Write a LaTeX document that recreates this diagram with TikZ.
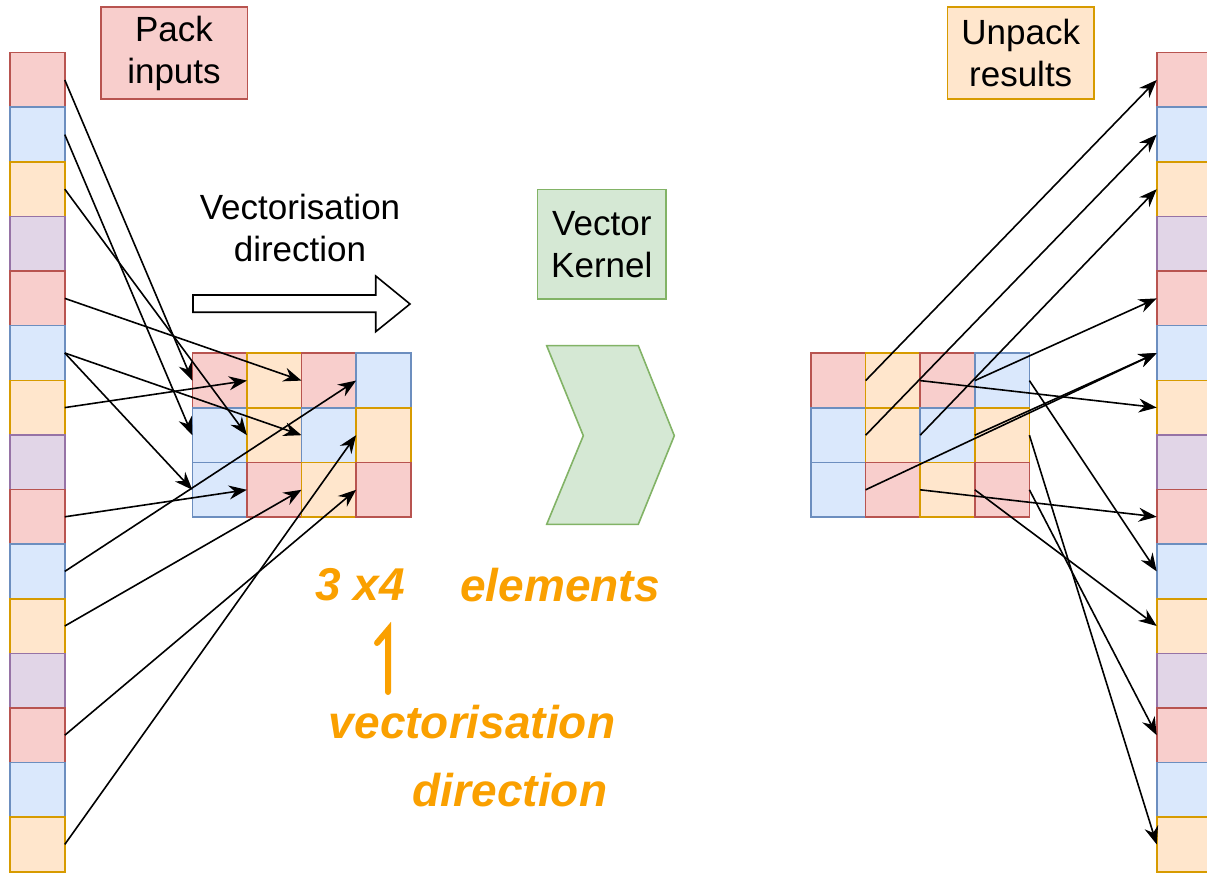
\documentclass[tikz,border=0pt]{standalone}
\usepackage{fontspec}
\setmainfont{Liberation Sans}
\usetikzlibrary{arrows.meta}

\definecolor{rdf}{HTML}{F8CECC}\definecolor{rdd}{HTML}{B85450}
\definecolor{blf}{HTML}{DAE8FC}\definecolor{bld}{HTML}{6C8EBF}
\definecolor{orf}{HTML}{FFE6CC}\definecolor{ord}{HTML}{D79B00}
\definecolor{puf}{HTML}{E1D5E7}\definecolor{pud}{HTML}{9673A6}
\definecolor{gnf}{HTML}{D5E8D4}\definecolor{gnd}{HTML}{82B366}
\definecolor{hand}{RGB}{250,160,0}

\tikzset{
  cell/.style={draw=#1d, fill=#1f, line width=1.6pt, minimum size=54.6pt, inner sep=0pt, outer sep=0pt},
  tag/.style={draw=#1d, fill=#1f, line width=1.6pt, align=center, inner sep=0pt, outer sep=0pt},
  link/.style={->, line width=1.6pt},
  note/.style={text=hand, font=\fontsize{46}{52}\selectfont\bfseries\itshape, inner sep=0pt}
}

\begin{document}
\begin{tikzpicture}[x=1pt,y=-1pt,>={Stealth[length=18pt,width=14pt,inset=6pt]},
    every node/.style={font=\fontsize{35}{42}\selectfont}]
  \useasboundingbox (0,0) rectangle (1207,874);

  % input and output columns
  \foreach \s [count=\i from 0] in {rd,bl,or,pu,rd,bl,or,pu,rd,bl,or,pu,rd,bl,or} {
    \node[cell=\s] (l\i) at (37.5,{80+54.6*\i}) {};
    \node[cell=\s] (r\i) at (1184,{80+54.6*\i}) {};
  }

  % packed 3x4 blocks
  \foreach \s [count=\k from 0] in {rd,or,rd,bl,bl,or,bl,or,bl,rd,or,rd} {
    \pgfmathtruncatemacro\gr{\k/4}
    \pgfmathtruncatemacro\gc{mod(\k,4)}
    \node[cell=\s] (a\k) at ({219.6+54.6*\gc},{380.6+54.6*\gr}) {};
    \node[cell=\s] (b\k) at ({838.3+54.6*\gc},{380.6+54.6*\gr}) {};
  }

  \node[tag=rd, minimum width=146.6pt, minimum height=91.7pt] (pack) at (174,53) {Pack\\inputs};
  \node[tag=or, minimum width=146.7pt, minimum height=91.7pt] (unpack) at (1020.7,53) {Unpack\\results};
  \node[tag=gn, minimum width=128.3pt, minimum height=109.7pt] (kernel) at (601.8,244.2) {Vector\\Kernel};
  \node[align=center] (dir) at (300,228) {Vectorisation\\direction};

  % direction arrow and kernel chevron
  \draw[line width=1.6pt, fill=white] (193,295) -- (375.7,295) -- (375.7,276) -- (410,304)
    -- (375.7,331.7) -- (375.7,312.3) -- (193,312.3) -- cycle;
  \draw[line width=1.6pt, draw=gnd, fill=gnf] (546.7,345.7) -- (638.3,345.7) -- (674.3,435.7)
    -- (638.3,524.3) -- (546.7,524.3) -- (583.3,435.7) -- cycle;

  % packing
  \draw[link] (l0.east) -- (a0.west);
  \draw[link] (l1.east) -- (a4.west);
  \draw[link] (l2.east) -- (a5.west);
  \draw[link] (l4.east) -- (a2.west);
  \draw[link] (l5.east) -- (a6.west);
  \draw[link] (l5.east) -- (a8.west);
  \draw[link] (l6.east) -- (a1.west);
  \draw[link] (l8.east) -- (a9.west);
  \draw[link] (l9.east) -- (a3.west);
  \draw[link] (l10.east) -- (a10.west);
  \draw[link] (l12.east) -- (a11.west);
  \draw[link] (l14.east) -- (a7.west);

  % unpacking
  \draw[link] (b0.east) -- (r0.west);
  \draw[link] (b4.east) -- (r1.west);
  \draw[link] (b5.east) -- (r2.west);
  \draw[link] (b2.east) -- (r4.west);
  \draw[link] (b1.east) -- (r6.west);
  \draw[link] (b8.east) -- (r5.west);
  \draw[link] (b6.east) -- (r5.west);
  \draw[link] (b3.east) -- (r9.west);
  \draw[link] (b9.east) -- (r8.west);
  \draw[link] (b10.east) -- (r10.west);
  \draw[link] (b7.east) -- (r14.west);
  \draw[link] (b11.east) -- (r12.west);

  % scribbled note
  \node[note] (dims) at (360,585) {3 x4};
  \node[note] (elems) at (560,585) {elements};
  \node[note] (vec) at (472,722) {vectorisation};
  \node[note] (dirn) at (510,790) {direction};
  \coordinate (up) at (388,630);
  \draw[hand, line width=6pt, line cap=round] (388,692) -- (up) -- (377,643);
\end{tikzpicture}
\end{document}
